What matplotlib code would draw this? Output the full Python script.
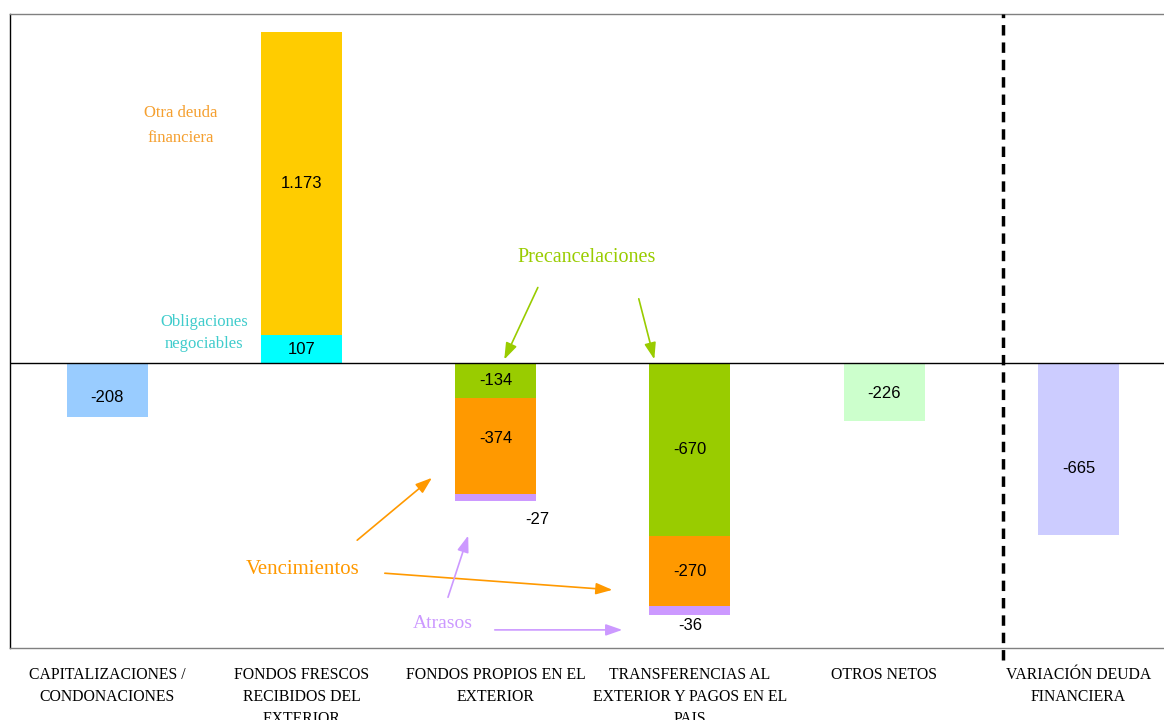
import matplotlib.pyplot as plt

# categorias del eje x
categorias = [
    "CAPITALIZACIONES /\nCONDONACIONES",
    "FONDOS FRESCOS\nRECIBIDOS DEL\nEXTERIOR",
    "FONDOS PROPIOS EN EL\nEXTERIOR",
    "TRANSFERENCIAS AL\nEXTERIOR Y PAGOS EN EL\nPAIS",
    "OTROS NETOS",
    "VARIACIÓN DEUDA\nFINANCIERA",
]

# barras simples
simples_pos = [0, 4, 5]
simples_val = [-208, -226, -665]
simples_col = ["#99CCFF", "#CCFFCC", "#CCCCFF"]

# fondos frescos: obligaciones negociables + otra deuda financiera
frescos_val = [107, 1173]
frescos_col = ["#00FFFF", "#FFCC00"]

# fondos propios / transferencias: precancelaciones, vencimientos, atrasos
propios_val = [-134, -374, -27]
transf_val = [-670, -270, -36]
apilado_col = ["#99CC00", "#FF9900", "#CC99FF"]


def fmt(v):
    return f"{v:,}".replace(",", ".")


fig = plt.figure(figsize=(11.64, 7.2), dpi=100)
ax = fig.add_axes([10 / 1164, 0.1, 1 - 10 / 1164, 1 - 0.1 - 14 / 720])

w = 0.417
num_font = dict(family="Liberation Sans", fontsize=12, color="black",
                ha="center", va="center")

# barras simples
for x, v, c in zip(simples_pos, simples_val, simples_col):
    ax.bar(x, v, width=w, color=c, zorder=2)
ax.text(0, simples_val[0] / 2 - 30, fmt(simples_val[0]), **num_font)
ax.text(4, simples_val[1] / 2 - 5, fmt(simples_val[1]), **num_font)
ax.text(5, simples_val[2] / 2 - 75, fmt(simples_val[2]), **num_font)

# fondos frescos apilado
base = 0
for v, c in zip(frescos_val, frescos_col):
    ax.bar(1, v, width=w, bottom=base, color=c, zorder=2)
    ax.text(1, base + v / 2, fmt(v), **num_font)
    base += v

# fondos propios y transferencias apilados
for x, vals in [(2, propios_val), (3, transf_val)]:
    base = 0
    for i, (v, c) in enumerate(zip(vals, apilado_col)):
        ax.bar(x, v, width=w, bottom=base, color=c, zorder=2)
        if i < 2:
            dy = 30 if (x == 2 and i == 1) else 0
            ax.text(x, base + v / 2 + dy, fmt(v), **num_font)
        base += v
ax.text(2.213, sum(propios_val) - 70, fmt(propios_val[2]), **num_font)
ax.text(3.0, sum(transf_val) - 40, fmt(transf_val[2]), **num_font)

# linea del cero y separador
ax.axhline(0, color="black", lw=1, zorder=3)
ax.plot([4.611, 4.611], [-1150, 1350], color="black", lw=2.5,
        ls=(0, (3, 2)), clip_on=False, zorder=4)

# anotaciones
serif = "Liberation Serif"
ax.text(0.38, 918, "Otra deuda\nfinanciera", color="#F5A030", family=serif,
        fontsize=12, ha="center", va="center", linespacing=1.7)
ax.text(0.50, 116, "Obligaciones\nnegociables", color="#40CCCC", family=serif,
        fontsize=12, ha="center", va="center", linespacing=1.55)

verde = "#99CC00"
naranja = "#FF9900"
lila = "#CC99FF"
flecha = "-|>,head_length=1.0,head_width=0.35"
ax.text(2.47, 410, "Precancelaciones", color=verde, family=serif,
        fontsize=14.5, ha="center", va="center")
for xy, xyt in [((2.038, 4), (2.223, 302)), ((2.820, 4), (2.733, 259))]:
    ax.annotate("", xy=xy, xytext=xyt,
                arrowprops=dict(arrowstyle=flecha, color=verde, lw=1.2))

ax.text(1.004, -800, "Vencimientos", color=naranja, family=serif,
        fontsize=15, ha="center", va="center")
for xy, xyt in [((1.683, -437), (1.276, -692)), ((2.615, -878), (1.415, -812))]:
    ax.annotate("", xy=xy, xytext=xyt,
                arrowprops=dict(arrowstyle=flecha, color=naranja, lw=1.2))

ax.text(1.729, -1009, "Atrasos", color=lila, family=serif,
        fontsize=14, ha="center", va="center")
for xy, xyt in [((1.863, -657), (1.750, -916)), ((2.666, -1032), (1.981, -1032))]:
    ax.annotate("", xy=xy, xytext=xyt,
                arrowprops=dict(arrowstyle=flecha, color=lila, lw=1.2))

# ejes
ax.set_xlim(-0.5, 5.44)
ax.set_ylim(-1102, 1350)
ax.set_xticks(range(len(categorias)))
ax.set_xticklabels(categorias, family=serif, fontsize=11.3, linespacing=1.5)
ax.tick_params(axis="x", length=0, pad=14)
ax.set_yticks([])
ax.spines["right"].set_visible(False)
ax.spines["top"].set_color("#808080")
ax.spines["bottom"].set_color("#808080")
ax.spines["left"].set_color("black")
for s in ax.spines.values():
    s.set_linewidth(1)

fig.savefig("out.png", dpi=100)
